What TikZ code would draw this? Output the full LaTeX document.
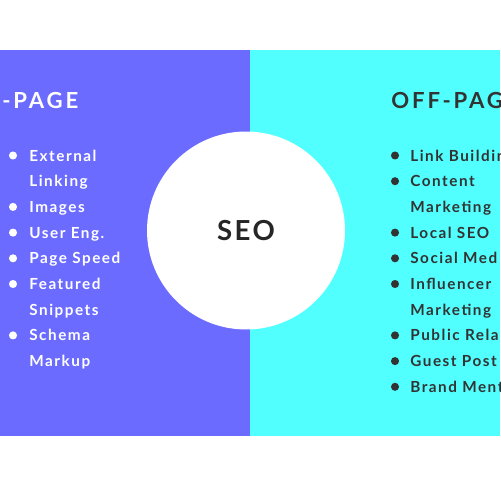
\documentclass[tikz,border=0pt]{standalone}
\usepackage{fontspec}
\setmainfont{Lato}
\definecolor{onpage}{HTML}{6B6BFF}
\definecolor{offpage}{HTML}{52FFFF}
\definecolor{darktext}{HTML}{333333}
\tikzstyle{heading} = [anchor=base west, inner sep=0pt, font=\fontsize{12.6}{14}\selectfont\bfseries\addfontfeature{LetterSpace=13}]
\tikzstyle{item} = [anchor=base west, inner sep=0pt, font=\fontsize{8.7}{10}\selectfont\bfseries\addfontfeature{LetterSpace=10}]
\tikzstyle{dot} = [circle, inner sep=0pt, minimum size=4.6pt]

\begin{document}
\begin{tikzpicture}[x=0.02cm, y=-0.02cm]
      \useasboundingbox (0, 0) rectangle (500, 500);
      \clip (0, 0) rectangle (500, 500);
      \fill[onpage] (0, 50) rectangle (250, 436);
      \fill[offpage] (250, 50) rectangle (500, 436);
      \node[circle, fill=white, minimum size=198*0.02cm, inner sep=0pt] (seo) at (246, 230.5) {};
      \node[font=\fontsize{15.7}{18}\selectfont\bfseries\addfontfeature{LetterSpace=9}, text=black!85] at (seo.center) {SEO};
      % on-page side
      \node[heading, text=white] (onhead) at (2, 109) {-PAGE};
      \node[dot, fill=white] (ob1) at (13, 155.5) {};
      \node[item, text=white] (oi1) at (29, 161) {External};
      \node[item, text=white] (oi2) at (29, 186.7) {Linking};
      \node[dot, fill=white] (ob3) at (13, 206.9) {};
      \node[item, text=white] (oi3) at (29, 212.4) {Images};
      \node[dot, fill=white] (ob4) at (13, 232.6) {};
      \node[item, text=white] (oi4) at (29, 238.1) {User Eng.};
      \node[dot, fill=white] (ob5) at (13, 258.3) {};
      \node[item, text=white] (oi5) at (29, 263.8) {Page Speed};
      \node[dot, fill=white] (ob6) at (13, 284) {};
      \node[item, text=white] (oi6) at (29, 289.5) {Featured};
      \node[item, text=white] (oi7) at (29, 315.2) {Snippets};
      \node[dot, fill=white] (ob8) at (13, 335.4) {};
      \node[item, text=white] (oi8) at (29, 340.9) {Schema};
      \node[item, text=white] (oi9) at (29, 366.6) {Markup};
      % off-page side, cut by the right edge
      \node[heading, text=darktext] (offhead) at (391, 109) {OFF-PAG};
      \node[dot, fill=darktext] (fb1) at (395, 155.5) {};
      \node[item, text=darktext] (fi1) at (410, 161) {Link Buildin};
      \node[dot, fill=darktext] (fb2) at (395, 181.2) {};
      \node[item, text=darktext] (fi2) at (410, 186.7) {Content};
      \node[item, text=darktext] (fi3) at (410, 212.4) {Marketing};
      \node[dot, fill=darktext] (fb4) at (395, 232.6) {};
      \node[item, text=darktext] (fi4) at (410, 238.1) {Local SEO};
      \node[dot, fill=darktext] (fb5) at (395, 258.3) {};
      \node[item, text=darktext] (fi5) at (410, 263.8) {Social Med};
      \node[dot, fill=darktext] (fb6) at (395, 284) {};
      \node[item, text=darktext] (fi6) at (410, 289.5) {Influencer};
      \node[item, text=darktext] (fi7) at (410, 315.2) {Marketing};
      \node[dot, fill=darktext] (fb8) at (395, 335.4) {};
      \node[item, text=darktext] (fi8) at (410, 340.9) {Public Rela};
      \node[dot, fill=darktext] (fb9) at (395, 361.1) {};
      \node[item, text=darktext] (fi9) at (410, 366.6) {Guest Post};
      \node[dot, fill=darktext] (fb10) at (395, 386.8) {};
      \node[item, text=darktext] (fi10) at (410, 392.3) {Brand Ment};
\end{tikzpicture}
\end{document}
